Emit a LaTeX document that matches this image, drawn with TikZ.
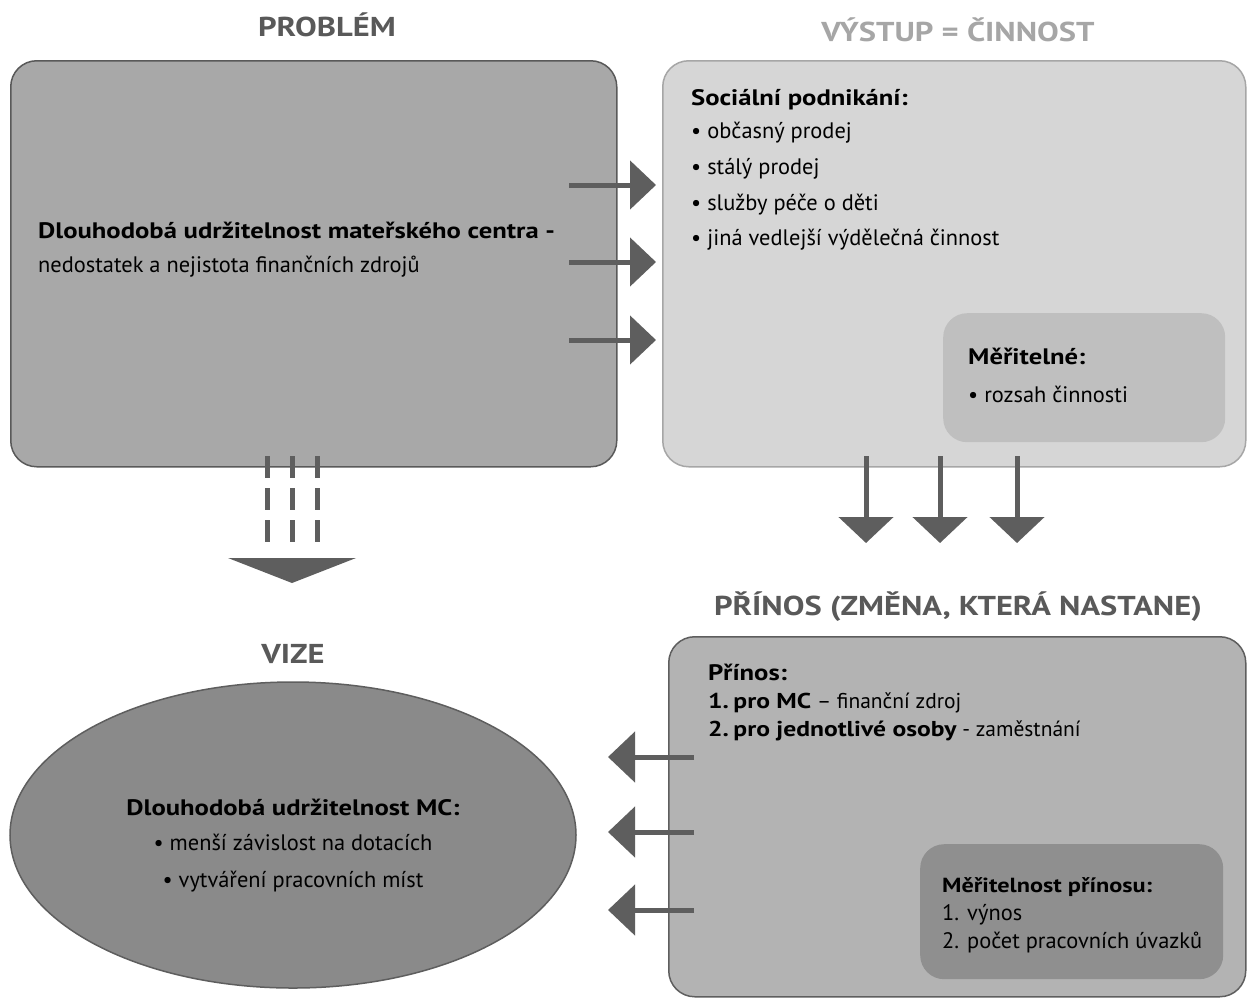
\documentclass[tikz,border=0pt]{standalone}
\usepackage{fontspec}
\setmainfont{PT Sans}[BoldFeatures={FakeStretch=1.19}]
\usetikzlibrary{arrows.meta,shapes.geometric}
\definecolor{arrowgray}{HTML}{5E5E5E}
\definecolor{titledark}{HTML}{595959}
\definecolor{titlelight}{HTML}{A6A6A6}
\definecolor{probfill}{HTML}{A8A8A8}
\definecolor{outfill}{HTML}{D6D6D6}
\definecolor{outinner}{HTML}{BFBFBF}
\definecolor{benfill}{HTML}{B3B3B3}
\definecolor{beninner}{HTML}{8F8F8F}
\definecolor{visfill}{HTML}{8A8A8A}
\tikzset{
  panel/.style={rounded corners=26pt, anchor=north west, inner sep=0pt, line width=1.5pt},
  inner panel/.style={rounded corners=24pt, anchor=north west, inner sep=0pt, draw=none},
  title/.style={font=\fontsize{27.3}{32}\selectfont\bfseries, anchor=base, inner sep=0pt},
  body/.style={font=\fontsize{22.4}{26}\selectfont, anchor=base west, inner sep=0pt},
  bodyc/.style={font=\fontsize{22.4}{26}\selectfont, anchor=base, inner sep=0pt},
  rarrow/.style={draw=arrowgray, line width=5pt, -{Triangle[width=48pt,length=26pt]}, arrowgray},
  darrow/.style={draw=arrowgray, line width=5pt, -{Triangle[width=54pt,length=26pt]}, arrowgray},
  larrow/.style={draw=arrowgray, line width=5pt, -{Triangle[width=50pt,length=27pt]}, arrowgray},
  dashline/.style={draw=arrowgray, line width=5pt, dash pattern=on 22pt off 10pt},
}
\begin{document}
\begin{tikzpicture}[x=1pt,y=-1pt]
\useasboundingbox (0,0) rectangle (1247,997);
\fill[white] (0,0) rectangle (1247,997);

% titles
\node[title, text=titledark]  (tprob) at (327,36)  {PROBLÉM};
\node[title, text=titlelight] (tout)  at (958,41)  {VÝSTUP = ČINNOST};
\node[title, text=titledark]  (tben)  at (958,615) {PŘÍNOS (ZMĚNA, KTERÁ NASTANE)};
\node[title, text=titledark]  (tvis)  at (293,663) {VIZE};

% problem panel
\node[panel, draw=titledark, fill=probfill, minimum width=606pt, minimum height=406pt] (prob) at (10,60) {};
\node[body] (prob1) at (38,238) {\bfseries Dlouhodobá udržitelnost mateřského centra -};
\node[body] (prob2) at (38,272) {nedostatek a nejistota finančních zdrojů};

% output panel
\node[panel, draw=titlelight, fill=outfill, minimum width=583pt, minimum height=406pt] (out) at (662,60) {};
\node[body] (out0) at (691,105) {\bfseries Sociální podnikání:};
\node[body] (out1) at (691,138) {• občasný prodej};
\node[body] (out2) at (691,174) {• stálý prodej};
\node[body] (out3) at (691,210) {• služby péče o děti};
\node[body] (out4) at (691,245) {• jiná vedlejší výdělečná činnost};
\node[inner panel, fill=outinner, minimum width=282pt, minimum height=129pt] (meas) at (943,313) {};
\node[body] (meas0) at (968,364) {\bfseries Měřitelné:};
\node[body] (meas1) at (968,402) {• rozsah činnosti};

% benefit panel
\node[panel, draw=arrowgray, fill=benfill, minimum width=577pt, minimum height=360pt] (ben) at (668,636) {};
\node[body] (ben0) at (708,680) {\bfseries Přínos:};
\node[body, font=\fontsize{21.5}{26}\selectfont] (ben1) at (708,708) {\bfseries 1.\kern-2pt\ pro MC\mdseries{} – finanční zdroj};
\node[body, font=\fontsize{21.5}{26}\selectfont] (ben2) at (708,736) {\bfseries 2.\kern-2pt\ pro jednotlivé osoby\mdseries{} - zaměstnání};
\node[inner panel, fill=beninner, minimum width=303pt, minimum height=135pt] (bmeas) at (920,844) {};
\node[body, font=\fontsize{20.4}{24}\selectfont] (bmeas0) at (942,892) {\bfseries Měřitelnost přínosu:};
\node[body] (bmeas1) at (942,920) {1. výnos};
\node[body] (bmeas2) at (942,948) {2. počet pracovních úvazků};

% vision ellipse
\node[ellipse, draw=arrowgray, line width=1.5pt, fill=visfill, minimum width=566pt, minimum height=306pt, inner sep=0pt] (vis) at (293,835) {};
\node[bodyc] (vis0) at (293,815) {\bfseries Dlouhodobá udržitelnost MC:};
\node[bodyc] (vis1) at (293,850) {• menší závislost na dotacích};
\node[bodyc] (vis2) at (293,887) {• vytváření pracovních míst};

% problem -> output
\foreach \i/\y in {1/185,2/262,3/340}{
  \coordinate (pa\i) at (569,\y);
  \coordinate (pb\i) at (656,\y);
  \draw[rarrow] (pa\i) -- (pb\i);
}
% output -> benefit
\foreach \i/\x in {1/866,2/940,3/1017}{
  \coordinate (oa\i) at (\x,456);
  \coordinate (ob\i) at (\x,543);
  \draw[darrow] (oa\i) -- (ob\i);
}
% benefit -> vision
\foreach \i/\y in {1/757,2/832,3/910}{
  \coordinate (ba\i) at (694,\y);
  \coordinate (bb\i) at (608,\y);
  \draw[larrow] (ba\i) -- (bb\i);
}
% problem -> vision (dashed)
\foreach \i/\x in {1/267,2/292,3/317}{
  \coordinate (da\i) at (\x,456);
  \coordinate (db\i) at (\x,542);
  \draw[dashline] (da\i) -- (db\i);
}
\coordinate (dh1) at (228,558);
\coordinate (dh2) at (356,558);
\coordinate (dh3) at (292,583);
\fill[arrowgray] (dh1) -- (dh2) -- (dh3) -- cycle;
\end{tikzpicture}
\end{document}
